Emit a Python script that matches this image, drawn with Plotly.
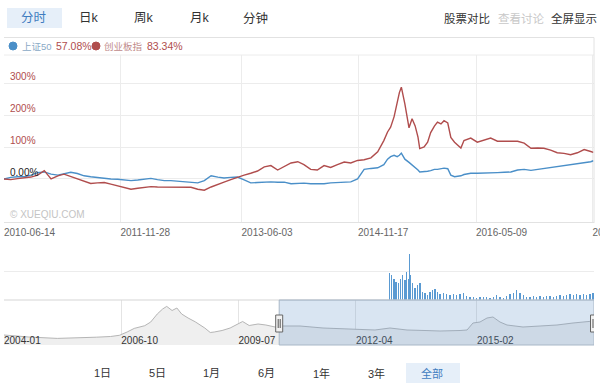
import plotly.graph_objects as go

W, H = 600, 385

# ---------------- data ----------------
main_dates = [
    "2010-06-14", "2010-07-15", "2010-08-15", "2010-09-15", "2010-10-15", "2010-11-15", "2010-12-15",
    "2011-01-15", "2011-02-15", "2011-03-15", "2011-04-15", "2011-05-15", "2011-06-15",
    "2011-07-15", "2011-08-15", "2011-09-15", "2011-10-15", "2011-11-15", "2011-12-15",
    "2012-01-15", "2012-02-15", "2012-03-15", "2012-04-15", "2012-05-15", "2012-06-15",
    "2012-07-15", "2012-08-15", "2012-09-15", "2012-10-15", "2012-11-15", "2012-12-15",
    "2013-01-15", "2013-02-15", "2013-03-15", "2013-04-15", "2013-05-15", "2013-06-15",
    "2013-07-15", "2013-08-15", "2013-09-15", "2013-10-15", "2013-11-15", "2013-12-15",
    "2014-01-15", "2014-02-15", "2014-03-15", "2014-04-15", "2014-05-15", "2014-06-15",
    "2014-07-15", "2014-08-15", "2014-09-15", "2014-10-15", "2014-11-15", "2014-12-15",
    "2015-01-15", "2015-02-15", "2015-03-15", "2015-04-01", "2015-04-15", "2015-05-01",
    "2015-05-15", "2015-05-25", "2015-06-03", "2015-06-12", "2015-06-19", "2015-07-08",
    "2015-07-22", "2015-08-05", "2015-08-18", "2015-08-26", "2015-09-15", "2015-10-01",
    "2015-10-15", "2015-11-01", "2015-11-15", "2015-12-01", "2015-12-15", "2016-01-01",
    "2016-01-15", "2016-02-01", "2016-02-15", "2016-03-01", "2016-03-15", "2016-04-15",
    "2016-05-15", "2016-06-15", "2016-07-15", "2016-08-15", "2016-09-15", "2016-10-15",
    "2016-11-15", "2016-12-15", "2017-01-15", "2017-02-15", "2017-03-15", "2017-04-15",
    "2017-05-15", "2017-06-15", "2017-07-15", "2017-08-15", "2017-09-15", "2017-10-15",
    "2017-10-27",
]
sz50_pct = [
    0, 5, 7, 7, 12, 20, 22,
    15, 12, 16, 21, 17, 10, 7, 4, 2, 0, -1, -3,
    -5, -3, 0, 2, -2, -5, -5, -7, -10, -10, -12, -5,
    10, 6, 3, 5, 6, -3, -12, -11, -9, -9, -10, -10,
    -15, -14, -13, -15, -16, -15, -12, -11, -10, -9, 0, 30,
    33, 35, 45, 62, 70, 74, 70, 74, 81, 72, 62, 52, 44, 38, 28, 22, 22, 24, 26, 30,
    30, 33, 34, 32, 12, 7, 8, 10, 14, 18,
    18, 18, 20, 20, 21, 22, 28, 30, 27, 30, 31, 35, 37, 41, 44, 47, 51, 54, 57.08,
]
cyb_pct = [
    0, -2, 1, 3, 6, 12, 26,
    0, 10, 15, 8, -1, -8, -14, -12, -11, -16, -22, -28,
    -32, -29, -27, -24, -25, -25, -25, -25, -24, -26, -32, -35,
    -25, -18, -10, -2, 6, 12, 18, 25, 38, 42, 28, 38,
    50, 54, 45, 30, 28, 42, 36, 45, 53, 50, 58, 60,
    66, 85, 120, 147, 162, 195, 245, 270, 287, 262, 235, 160, 188, 166, 131, 95, 100, 115, 145, 165,
    178, 172, 182, 175, 130, 115, 105, 97, 120, 128,
    115, 122, 128, 118, 118, 120, 118, 112, 96, 97, 96, 90, 82, 80, 76, 82, 92, 86, 83.34,
]
main_tick_dates = ["2010-06-14", "2011-11-28", "2013-06-03", "2014-11-17", "2016-05-09", "2017-10-23"]
main_tick_text = ["2010-06-14", "2011-11-28", "2013-06-03", "2014-11-17", "2016-05-09", "2017-10-23"]
y_ticks = [0, 100, 200, 300]
y_tick_text = ["0.00%", "100%", "200%", "300%"]

vol_dates = [
    "2015-04-09", "2015-04-20", "2015-04-30", "2015-05-10", "2015-05-20", "2015-05-31",
    "2015-06-09", "2015-06-20", "2015-06-27", "2015-07-05", "2015-07-10", "2015-07-16",
    "2015-07-25", "2015-08-04", "2015-08-15", "2015-08-27", "2015-09-08", "2015-09-19",
    "2015-09-29", "2015-10-12", "2015-10-24", "2015-11-04", "2015-11-14",
    "2015-11-26", "2015-12-12", "2015-12-27", "2016-01-11", "2016-01-26", "2016-02-11",
    "2016-02-26", "2016-03-12", "2016-03-27", "2016-04-11", "2016-04-27", "2016-05-12",
    "2016-05-27", "2016-06-11", "2016-06-27", "2016-07-12", "2016-07-27", "2016-08-11",
    "2016-08-27", "2016-09-11", "2016-09-26", "2016-10-11", "2016-10-26", "2016-11-11",
    "2016-11-26", "2016-12-11", "2016-12-26", "2017-01-11", "2017-01-26", "2017-02-10",
    "2017-02-25", "2017-03-12", "2017-03-28", "2017-04-12", "2017-04-27", "2017-05-12",
    "2017-05-27", "2017-06-12", "2017-06-27", "2017-07-12", "2017-07-27", "2017-08-11",
    "2017-08-27", "2017-09-11", "2017-09-26", "2017-10-11", "2017-10-26",
]
vol_values = [
    1440, 1300, 1130, 940, 870, 1130, 1300, 1040, 1460, 1130, 2430, 1300,
    870, 610, 780, 870, 430, 350, 260, 430, 520, 570, 430,
    300, 350, 300, 260, 300, 260, 300, 350, 220, 170, 140, 120, 140,
    170, 170, 120, 170, 260, 140, 120, 220, 300, 350, 520, 350, 260, 170,
    170, 220, 170, 220, 170, 220, 210, 170, 220, 260, 220, 260, 300, 260,
    300, 260, 300, 260, 300, 350,
]

nav_dates = [
    "2004-01-01", "2004-04-01", "2004-08-01", "2005-04-01", "2005-10-01", "2006-03-01",
    "2006-07-01", "2006-09-15", "2006-11-20", "2007-01-20", "2007-04-20", "2007-06-10",
    "2007-08-05", "2007-09-20", "2007-10-25", "2007-12-10", "2008-01-20", "2008-03-01",
    "2008-04-25", "2008-06-25", "2008-09-15", "2008-11-01", "2008-12-05", "2009-02-10",
    "2009-04-20", "2009-06-20", "2009-08-05", "2009-09-30", "2009-12-15", "2010-02-20",
    "2010-05-10", "2010-06-14", "2010-12-09", "2011-06-24", "2011-12-29", "2012-05-06",
    "2012-09-11", "2013-01-17", "2013-06-12", "2013-11-13", "2014-03-22", "2014-09-09",
    "2014-11-08", "2014-12-29", "2015-02-27", "2015-04-28", "2015-06-18", "2015-08-17",
    "2015-10-16", "2015-12-24", "2016-03-01", "2016-07-25", "2016-12-17", "2017-05-03",
    "2017-09-26", "2017-10-27",
]
nav_values = [
    1000, 900, 800, 660, 700, 780,
    850, 970, 1300, 1660, 1930, 2300,
    3100, 3600, 3860, 3450, 3700, 3100,
    2700, 2320, 1700, 1250, 1300, 1450,
    1700, 2050, 2350, 1950, 2100, 2000,
    1800, 1900, 1900, 1700, 1600, 1600,
    1500, 1700, 1500, 1450, 1400, 1450,
    1500, 2200, 2300, 2700, 2800, 2300,
    2000, 1900, 1800, 1900, 2000, 2200,
    2400, 2400,
]
nav_tick_dates = ["2004-01-01", "2006-10-01", "2009-07-01", "2012-04-01", "2015-02-01"]

tabs = ["分时", "日k", "周k", "月k", "分钟"]
tools = ["股票对比", "查看讨论", "全屏显示"]
range_buttons = ["1日", "5日", "1月", "6月", "1年", "3年", "全部"]
series_names = ["上证50", "创业板指"]
series_last = ["57.08%", "83.34%"]
sel_start, sel_end = "2010-06-14", "2017-10-30"

# ---------------- style ----------------
FONT = "Liberation Sans, Noto Sans CJK SC, sans-serif"
BLUE = "#4a8fc8"
RED = "#b04d4d"
GRID = "#ececec"


def px(x):
    return x / W


def py(y):
    return 1 - y / H


fig = go.Figure()

fig.add_trace(go.Scatter(x=main_dates, y=sz50_pct, mode="lines",
                         line=dict(color=BLUE, width=1.4), xaxis="x", yaxis="y",
                         name=series_names[0]))
fig.add_trace(go.Scatter(x=main_dates, y=cyb_pct, mode="lines",
                         line=dict(color=RED, width=1.4), xaxis="x", yaxis="y",
                         name=series_names[1]))
fig.add_trace(go.Bar(x=vol_dates, y=vol_values, xaxis="x2", yaxis="y2",
                     marker=dict(color="#5a9ad2", line=dict(width=0)),
                     width=6 * 86400000))
fig.add_trace(go.Scatter(x=nav_dates, y=nav_values, mode="lines", fill="tozeroy",
                         fillcolor="#efefef", line=dict(color="#b5b5b5", width=1),
                         xaxis="x3", yaxis="y3"))

dom_x = [px(4), px(594)]
fig.update_layout(
    width=W, height=H, autosize=False,
    margin=dict(l=0, r=0, t=0, b=0, autoexpand=False),
    paper_bgcolor="white", plot_bgcolor="rgba(0,0,0,0)",
    showlegend=False,
    font=dict(family=FONT, size=11, color="#333"),
    bargap=0,
    xaxis=dict(domain=dom_x, type="date", range=["2010-06-14", "2017-10-30"],
               tickvals=main_tick_dates, ticktext=main_tick_text,
               ticklabelposition="outside right", ticklabeloverflow="allow",
               ticklabelstandoff=3,
               tickfont=dict(size=10, color="#666"), ticks="",
               showgrid=True, gridcolor=GRID, gridwidth=1, showline=False,
               zeroline=False, anchor="y", fixedrange=True, automargin=False),
    yaxis=dict(domain=[py(222), py(55)], range=[-134.4, 387.5],
               tickvals=y_ticks, showticklabels=False, showgrid=True,
               gridcolor=GRID, zeroline=False, anchor="x", fixedrange=True,
               automargin=False),
    xaxis2=dict(domain=dom_x, type="date", matches="x", showticklabels=False,
                showgrid=False, zeroline=False, anchor="y2", fixedrange=True,
                automargin=False),
    yaxis2=dict(domain=[py(300), py(243)], range=[0, 3000], dtick=1500,
                showticklabels=False, showgrid=True, gridcolor=GRID,
                zeroline=False, anchor="x2", fixedrange=True, automargin=False),
    xaxis3=dict(domain=dom_x, type="date", range=["2004-01-01", "2017-10-30"],
                tickvals=nav_tick_dates, tickformat="%Y-%m",
                ticklabelposition="inside right", ticklabelstandoff=-7,
                tickfont=dict(size=10, color="#333"), ticks="",
                showgrid=True, gridcolor="#e4e4e4", zeroline=False,
                anchor="y3", fixedrange=True, automargin=False),
    yaxis3=dict(domain=[py(345), py(300)], range=[0, 4500], showticklabels=False,
                showgrid=False, zeroline=False, anchor="x3", fixedrange=True,
                automargin=False),
)

shapes = []
line_col = "#e2e2e2"
shapes.append(dict(type="line", xref="paper", yref="paper", x0=px(4), x1=px(594),
                   y0=py(37.5), y1=py(37.5), line=dict(color=line_col, width=1)))
shapes.append(dict(type="line", xref="paper", yref="paper", x0=px(4), x1=px(594),
                   y0=py(55), y1=py(55), line=dict(color=GRID, width=1)))
shapes.append(dict(type="line", xref="paper", yref="paper", x0=px(594), x1=px(594),
                   y0=py(37.5), y1=py(223), line=dict(color=line_col, width=1)))
shapes.append(dict(type="line", xref="paper", yref="paper", x0=px(4), x1=px(594),
                   y0=py(222.5), y1=py(222.5), line=dict(color=line_col, width=1)))
shapes.append(dict(type="line", xref="paper", yref="paper", x0=px(4), x1=px(594),
                   y0=py(300), y1=py(300), line=dict(color="#d5d5d5", width=1)))
# navigator selection
shapes.append(dict(type="rect", xref="x3", yref="paper", x0=sel_start, x1=sel_end,
                   y0=py(345), y1=py(300), fillcolor="rgba(102,153,204,0.25)",
                   line=dict(color="#a8b7c7", width=1), layer="above"))
for d in (sel_start, sel_end):
    shapes.append(dict(type="rect", xref="x3", yref="paper", xsizemode="pixel",
                       xanchor=d, x0=-3.5, x1=3.5, y0=py(332), y1=py(315),
                       fillcolor="#f2f2f2", line=dict(color="#666", width=1),
                       layer="above"))
    for off in (-1, 1):
        shapes.append(dict(type="line", xref="x3", yref="paper", xsizemode="pixel",
                           xanchor=d, x0=off, x1=off, y0=py(328), y1=py(319),
                           line=dict(color="#555", width=1), layer="above"))
# tab highlights
shapes.append(dict(type="rect", xref="paper", yref="paper", x0=px(7), x1=px(62),
                   y0=py(28), y1=py(8), fillcolor="#e6eff9", line=dict(width=0),
                   layer="below"))
shapes.append(dict(type="rect", xref="paper", yref="paper", x0=px(406), x1=px(460),
                   y0=py(383), y1=py(363), fillcolor="#e6eff9", line=dict(width=0),
                   layer="below"))
# legend dots
for cx, col in ((13, BLUE), (96, RED)):
    shapes.append(dict(type="circle", xref="paper", yref="paper",
                       x0=px(cx - 4), x1=px(cx + 4), y0=py(50), y1=py(42),
                       fillcolor=col, line=dict(color=col, width=1)))
fig.update_layout(shapes=shapes)

ann = []


def text(x, y, s, size=11, color="#333", xanchor="center"):
    ann.append(dict(x=px(x), y=py(y), xref="paper", yref="paper", text=s,
                    showarrow=False, xanchor=xanchor, yanchor="middle",
                    font=dict(size=size, color=color, family=FONT)))


for s, cx in zip(tabs, [34, 89, 144, 200, 255]):
    text(cx, 18, s, size=12.5, color="#3f7cbf" if s == tabs[0] else "#333")
for s, cx, col in zip(tools, [467, 521, 574], ["#333", "#c8c8c8", "#333"]):
    text(cx, 18, s, size=11.5, color=col)
text(20, 46, series_names[0], size=9.5, color="#8aa9c6", xanchor="left")
text(54, 46, series_last[0], size=10.5, color=RED, xanchor="left")
text(102, 46, series_names[1], size=9.5, color="#c08a8a", xanchor="left")
text(145, 46, series_last[1], size=10.5, color=RED, xanchor="left")
for v, s in zip(y_ticks, y_tick_text):
    ann.append(dict(x=px(8), y=v, xref="paper", yref="y", text=s, showarrow=False,
                    xanchor="left", yanchor="bottom", yshift=-1,
                    font=dict(size=10, color="#222" if v == 0 else RED, family=FONT)))
text(8, 214, "© XUEQIU.COM", size=10, color="#c4c4c4", xanchor="left")
for s, cx in zip(range_buttons, [102, 157, 211, 266, 321, 376, 432]):
    text(cx, 373, s, size=11, color="#3f7cbf" if s == range_buttons[-1] else "#333")

fig.update_layout(annotations=ann)

fig.write_html("out.html", config={"displayModeBar": False, "staticPlot": True,
                                   "responsive": False},
               post_script="document.body.style.margin='0';document.body.style.overflow='hidden';")
